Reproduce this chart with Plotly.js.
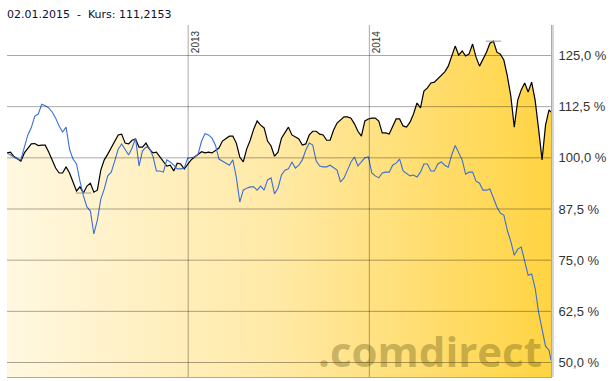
<!DOCTYPE html>
<html><head><meta charset="utf-8">
<script src="https://cdn.plot.ly/plotly-3.0.1.min.js"></script>
<style>html,body{margin:0;padding:0;background:#fff;} #chart{width:612px;height:381px;}</style>
</head><body><div id="chart"></div>
<script>
// weekly dates (Mondays) + last trading day
const dates = [
"2012-01-02","2012-01-09","2012-01-16","2012-01-23","2012-01-30","2012-02-06","2012-02-13","2012-02-20","2012-02-27","2012-03-05",
"2012-03-12","2012-03-19","2012-03-26","2012-04-02","2012-04-09","2012-04-16","2012-04-23","2012-04-30","2012-05-07","2012-05-14",
"2012-05-21","2012-05-28","2012-06-04","2012-06-11","2012-06-18","2012-06-25","2012-07-02","2012-07-09","2012-07-16","2012-07-23",
"2012-07-30","2012-08-06","2012-08-13","2012-08-20","2012-08-27","2012-09-03","2012-09-10","2012-09-17","2012-09-24","2012-10-01",
"2012-10-08","2012-10-15","2012-10-22","2012-10-29","2012-11-05","2012-11-12","2012-11-19","2012-11-26","2012-12-03","2012-12-10",
"2012-12-17","2012-12-24","2012-12-31",
"2013-01-07","2013-01-14","2013-01-21","2013-01-28","2013-02-04","2013-02-11","2013-02-18","2013-02-25","2013-03-04","2013-03-11",
"2013-03-18","2013-03-25","2013-04-01","2013-04-08","2013-04-15","2013-04-22","2013-04-29","2013-05-06","2013-05-13","2013-05-20",
"2013-05-27","2013-06-03","2013-06-10","2013-06-17","2013-06-24","2013-07-01","2013-07-08","2013-07-15","2013-07-22","2013-07-29",
"2013-08-05","2013-08-12","2013-08-19","2013-08-26","2013-09-02","2013-09-09","2013-09-16","2013-09-23","2013-09-30","2013-10-07",
"2013-10-14","2013-10-21","2013-10-28","2013-11-04","2013-11-11","2013-11-18","2013-11-25","2013-12-02","2013-12-09","2013-12-16",
"2013-12-23","2013-12-30",
"2014-01-06","2014-01-13","2014-01-20","2014-01-27","2014-02-03","2014-02-10","2014-02-17","2014-02-24","2014-03-03","2014-03-10",
"2014-03-17","2014-03-24","2014-03-31","2014-04-07","2014-04-14","2014-04-21","2014-04-28","2014-05-05","2014-05-12","2014-05-19",
"2014-05-26","2014-06-02","2014-06-09","2014-06-16","2014-06-23","2014-06-30","2014-07-07","2014-07-14","2014-07-21","2014-07-28",
"2014-08-04","2014-08-11","2014-08-18","2014-08-25","2014-09-01","2014-09-08","2014-09-15","2014-09-22","2014-09-29","2014-10-06",
"2014-10-13","2014-10-20","2014-10-27","2014-11-03","2014-11-10","2014-11-17","2014-11-24","2014-12-01","2014-12-08","2014-12-15",
"2014-12-22","2014-12-29","2015-01-02"
];

// black series (%), filled
const kurs = [
101.2,101.4,100.3,99.8,99.2,101.2,102.4,103.4,103.5,103.0,
103.1,103.1,101.4,99.5,97.5,96.3,96.3,97.8,96.3,94.1,
91.9,92.9,91.4,93.1,93.8,91.6,92.1,97.0,99.5,100.9,
102.4,104.1,105.6,105.8,103.6,103.4,104.3,104.6,102.6,102.6,
103.6,102.1,101.2,101.4,100.2,99.2,98.0,98.2,96.8,98.7,
98.5,97.3,98.5,99.5,100.2,100.9,101.5,101.2,101.4,101.2,
101.7,102.4,104.1,104.6,105.3,105.3,103.6,100.2,99.0,102.2,
104.3,107.0,109.0,108.0,107.3,104.1,102.9,100.4,101.4,104.8,
106.1,107.5,105.6,105.1,104.6,103.1,103.4,105.6,106.5,106.5,
105.8,105.6,104.3,104.3,106.8,108.5,109.2,110.0,110.0,109.7,
108.3,106.5,105.3,109.0,109.5,109.7,109.7,109.0,106.1,106.1,
105.8,107.8,109.5,109.5,107.8,107.5,108.7,110.7,113.4,112.2,
116.3,117.1,118.3,118.5,119.3,120.0,121.0,122.4,124.6,127.3,
125.1,126.1,124.9,125.4,127.8,124.6,122.4,124.1,125.8,128.0,
128.5,125.8,125.3,123.9,120.0,115.1,107.5,114.1,116.6,118.3,
116.1,118.5,114.1,107.0,99.5,108.0,111.7,111.2
];

// blue comparison series (%)
const vergleich = [
101.2,100.6,100.2,99.7,99.5,102.6,105.6,107.4,110.2,110.7,
113.1,112.7,112.2,111.2,109.7,107.8,106.3,107.5,102.1,99.7,
98.5,94.3,90.7,88.0,87.0,81.4,84.8,89.9,92.4,95.6,
96.5,99.2,102.1,103.4,101.9,100.7,102.4,104.8,98.0,101.7,
102.6,102.4,100.4,96.8,96.8,96.5,99.5,99.0,98.2,97.3,
97.3,97.5,99.9,100.0,100.2,100.9,104.1,105.9,105.6,104.8,
103.1,99.7,99.2,98.7,98.2,99.5,95.3,89.2,92.1,92.6,
92.9,92.9,92.1,93.1,92.1,94.6,95.1,91.2,92.6,95.8,
97.0,97.3,99.0,97.5,98.2,99.5,101.9,103.6,103.1,99.2,
98.0,97.8,97.8,98.2,97.5,97.0,94.1,95.1,97.0,99.0,
100.2,98.0,99.0,100.0,100.2,96.3,95.6,95.1,96.3,96.5,
96.5,98.2,98.7,99.7,96.8,96.3,95.6,95.8,95.3,96.5,
98.5,98.5,96.8,96.8,98.5,99.0,98.2,97.7,100.7,103.0,
101.2,99.5,96.0,96.5,96.5,94.3,93.8,92.1,92.1,92.4,
90.2,88.0,86.5,86.0,82.3,79.6,76.2,77.7,78.2,74.5,
71.3,71.6,68.2,62.3,57.7,54.0,53.0,50.6
];

const yTicks = [50, 62.5, 75, 87.5, 100, 112.5, 125];
const yTickText = ["50,0 %", "62,5 %", "75,0 %", "87,5 %", "100,0 %", "112,5 %", "125,0 %"];
const yearTicks = ["2013-01-01", "2014-01-01"];
const yearLabels = ["2013", "2014"];
const headline = "02.01.2015\u00a0\u00a0-\u00a0\u00a0Kurs: 111,2153";
const watermark = ".comdirect";

const iMax = kurs.indexOf(Math.max(...kurs));
const iMin = kurs.indexOf(Math.min(...kurs));

const traces = [
  {
    x: dates, y: kurs, type: "scatter", mode: "lines",
    line: {color: "#000000", width: 1.2},
    fill: "tozeroy",
    fillgradient: {type: "horizontal", colorscale: [[0, "rgb(255,248,225)"], [0.5, "rgb(255,233,165)"], [1, "rgb(255,212,66)"]]},
    hoverinfo: "skip"
  },
  {
    x: dates, y: vergleich, type: "scatter", mode: "lines",
    line: {color: "#3a6fd6", width: 1.1},
    hoverinfo: "skip"
  },
  {
    x: [dates[iMax], dates[iMin]], y: [kurs[iMax], kurs[iMin]],
    type: "scatter", mode: "markers",
    marker: {symbol: "line-ew", size: 11, line: {color: "#999999", width: 1}},
    hoverinfo: "skip"
  }
];

const gridColor = "rgba(0,0,0,0.34)";
const shapes = [];
yTicks.forEach(v => shapes.push({type: "line", layer: "above", xref: "paper", x0: 0, x1: 1, yref: "y", y0: v, y1: v, line: {color: gridColor, width: 1}}));
yearTicks.forEach(d => shapes.push({type: "line", layer: "above", xref: "x", x0: d, x1: d, yref: "paper", y0: 0, y1: 1, line: {color: gridColor, width: 1}}));
shapes.push({type: "line", layer: "above", xref: "paper", xsizemode: "pixel", xanchor: 1, x0: 2, x1: 2, yref: "paper", y0: 0, y1: 1, line: {color: "#aaaaaa", width: 1}});

const annotations = yearTicks.map((d, i) => ({
  x: d, xref: "x", y: 1, yref: "paper", text: yearLabels[i], showarrow: false,
  textangle: -90, xanchor: "left", yanchor: "top", xshift: 1, yshift: -4, borderpad: 0,
  font: {family: "Liberation Sans, Arial, sans-serif", size: 10, color: "#333333"}
}));
annotations.push({
  x: 1, xref: "paper", y: 0, yref: "paper", text: watermark, showarrow: false,
  xanchor: "right", yanchor: "bottom", xshift: -8, yshift: -3, borderpad: 0,
  font: {family: "Open Sans, sans-serif", size: 42, weight: 700, color: "rgba(100,85,20,0.36)"}
});

const layout = {
  width: 612, height: 381,
  margin: {l: 7, r: 61, t: 25, b: 4},
  paper_bgcolor: "#ffffff", plot_bgcolor: "#ffffff",
  showlegend: false,
  title: {
    text: headline, x: 0, xref: "paper", xanchor: "left",
    y: 1 - 14 / 381, yref: "container", yanchor: "middle",
    font: {family: "DejaVu Sans, Verdana, sans-serif", size: 11, color: "#10102a"}
  },
  xaxis: {
    type: "date", range: [dates[0], dates[dates.length - 1]],
    showgrid: false, zeroline: false, showticklabels: false, ticks: "",
    showline: true, linecolor: "#aaaaaa", linewidth: 1, fixedrange: true
  },
  yaxis: {
    side: "right", range: [46.46, 132.45],
    tickmode: "array", tickvals: yTicks, ticktext: yTickText,
    showgrid: false, zeroline: false, ticks: "",
    showline: true, linecolor: "#aaaaaa", linewidth: 1,
    ticklabelstandoff: 4,
    tickfont: {family: "Liberation Sans, Arial, sans-serif", size: 13, color: "#333333"},
    fixedrange: true
  },
  shapes: shapes,
  annotations: annotations
};

Plotly.newPlot("chart", traces, layout, {staticPlot: true, displayModeBar: false});
</script>
</body></html>
